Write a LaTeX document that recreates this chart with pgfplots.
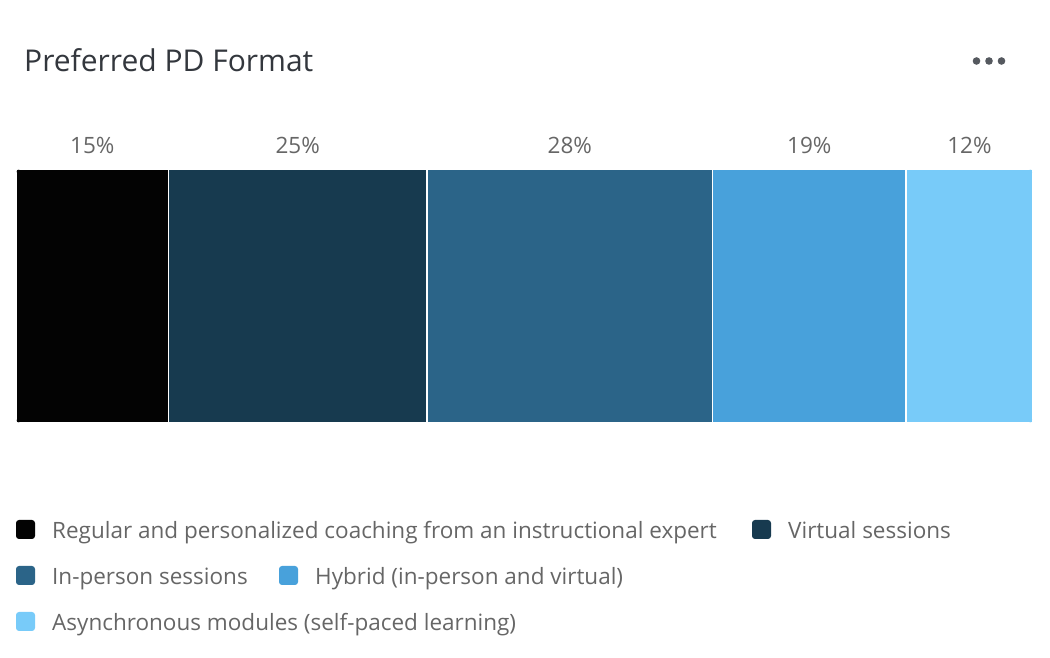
\documentclass[border=0pt]{standalone}
\usepackage{pgfplots}
\pgfplotsset{compat=1.18}
\usepackage{pgfplotstable}
\usepackage{fontspec}
\setmainfont{Open Sans}
\definecolor{cA}{HTML}{030303}
\definecolor{cB}{HTML}{173A4F}
\definecolor{cC}{HTML}{2B6488}
\definecolor{cD}{HTML}{48A1DB}
\definecolor{cE}{HTML}{78CBF9}
\definecolor{titlec}{HTML}{33373D}
\definecolor{labc}{HTML}{666666}
\definecolor{dotc}{HTML}{55595F}
\pgfplotstableread{
pos label
7.5   15\%
27.7  25\%
54.45 28\%
78.0  19\%
93.75 12\%
}\labels
\begin{document}
\begin{tikzpicture}[x=1pt,y=1pt]
\path[use as bounding box] (0,0) rectangle (1050,658);
% title and menu
\node[anchor=base west,inner sep=0,text=titlec,font=\fontsize{30}{36}\selectfont] at (24,586) {Preferred PD Format};
\fill[dotc] (976.5,597) circle (3.8) (989,597) circle (3.8) (1001.5,597) circle (3.8);
% bars
\begin{scope}
\clip[rounded corners=4] (16,235) rectangle (1033,489);
\begin{axis}[
  at={(16pt,235pt)}, anchor=south west,
  scale only axis, width=1017pt, height=254pt,
  xmin=0, xmax=100, ymin=-0.5, ymax=0.5,
  hide axis, xbar stacked, bar width=254pt,
  every axis plot/.append style={draw=white, line width=1.6pt},
]
\addplot[fill=cA] coordinates {(15.0,0)};
\addplot[fill=cB] coordinates {(25.4,0)};
\addplot[fill=cC] coordinates {(28.1,0)};
\addplot[fill=cD] coordinates {(19.0,0)};
\addplot[fill=cE] coordinates {(12.5,0)};
\end{axis}
\end{scope}
% labels
\begin{axis}[
  at={(16pt,235pt)}, anchor=south west,
  scale only axis, width=1017pt, height=254pt,
  xmin=0, xmax=100, ymin=-0.5, ymax=0.5,
  hide axis, clip=false,
]
\addplot[draw=none, mark=none, nodes near coords, point meta=explicit symbolic,
  every node near coord/.style={anchor=center, inner sep=0, text=labc,
    font=\fontsize{22.5}{27}\selectfont}]
  table[x=pos, y expr=0.5945, meta=label] {\labels};
\end{axis}
% legend
\begin{scope}[every node/.style={anchor=base west,inner sep=0,text=labc,font=\fontsize{22.5}{27}\selectfont}]
\fill[cA, rounded corners=3] (16,119) rectangle (35,138);
\node at (52,119) {Regular and personalized coaching from an instructional expert};
\fill[cB, rounded corners=3] (752,119) rectangle (771,138);
\node at (788,119) {Virtual sessions};
\fill[cC, rounded corners=3] (16,73) rectangle (35,92);
\node at (52,73) {In-person sessions};
\fill[cD, rounded corners=3] (279,73) rectangle (298,92);
\node at (315,73) {Hybrid (in-person and virtual)};
\fill[cE, rounded corners=3] (16,27) rectangle (35,46);
\node at (52,27) {Asynchronous modules (self-paced learning)};
\end{scope}
\end{tikzpicture}
\end{document}
